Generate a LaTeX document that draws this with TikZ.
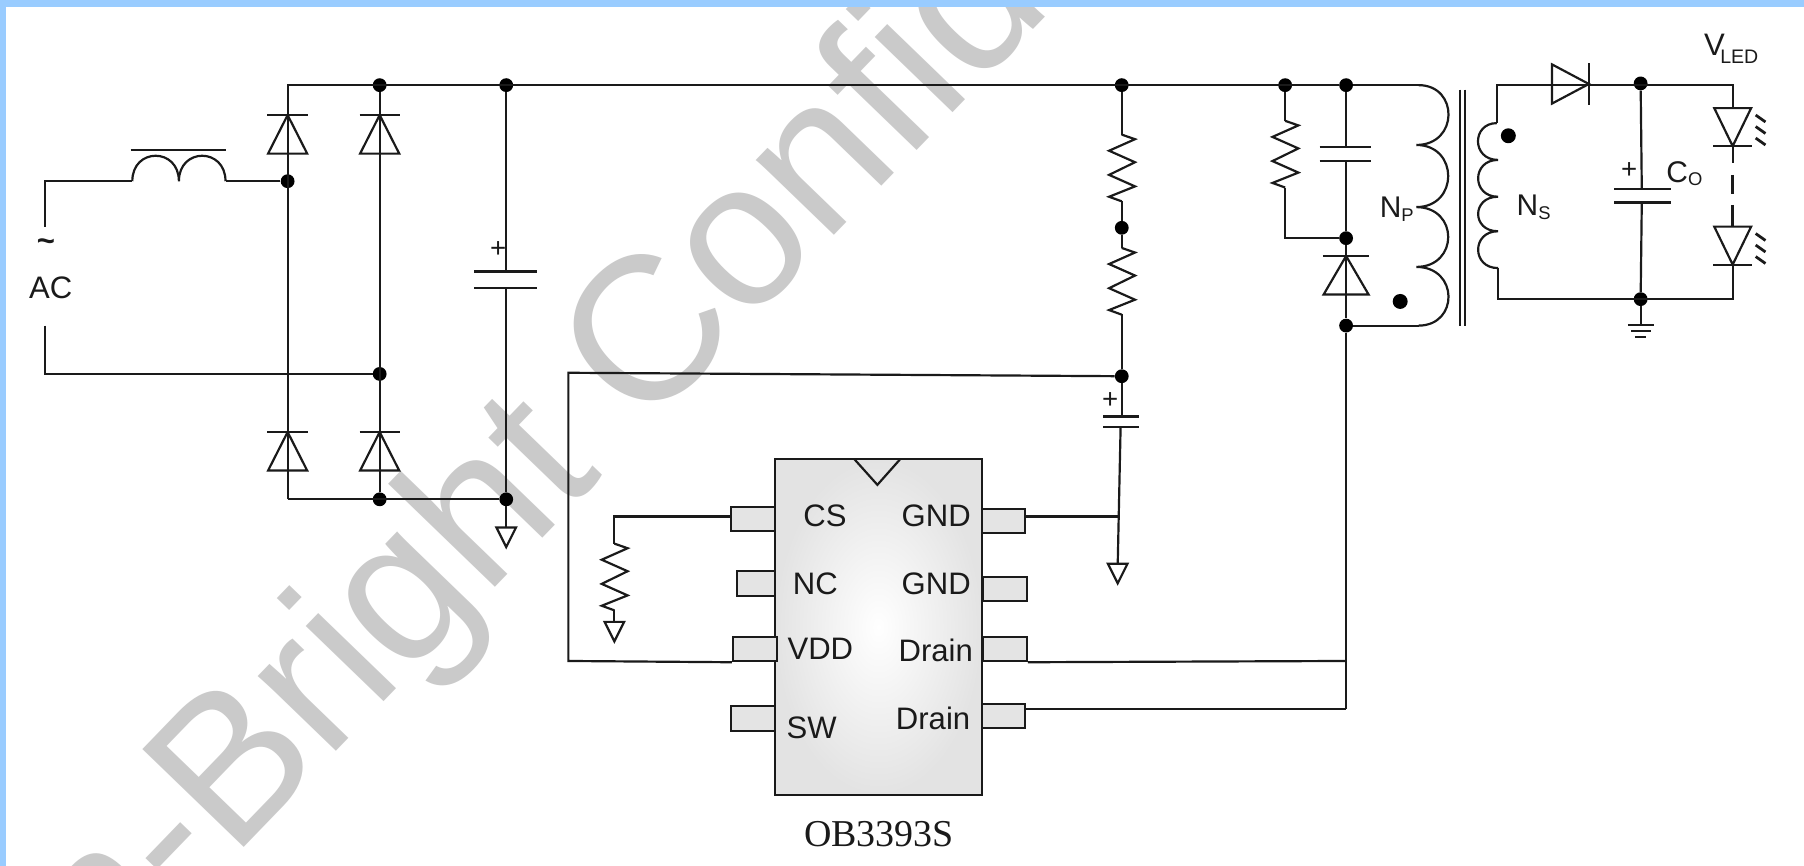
\documentclass[tikz,border=0pt]{standalone}
\usepackage{fontspec}
\setmainfont{Liberation Sans}
\newfontfamily\serifface{Liberation Serif}
\definecolor{barblue}{HTML}{99CCFF}
\definecolor{mark}{HTML}{CACACA}
\definecolor{ink}{HTML}{1A1A1A}
\definecolor{pinfill}{HTML}{E4E4E4}
\tikzset{
  wire/.style={line width=1.9pt,draw=ink,line join=miter},
  jdot/.style={circle,fill=black,draw=none,inner sep=0pt,minimum size=12pt},
  smalldot/.style={circle,fill=black,draw=none,inner sep=0pt,minimum size=13pt},
  lbl/.style={inner sep=0pt,text=ink,font=\fontsize{27}{27}\selectfont},
  lblb/.style={inner sep=0pt,text=ink,font=\fontsize{26}{26}\selectfont},
  plusl/.style={inner sep=0pt,text=ink,font=\fontsize{24}{24}\selectfont},
  pinbox/.style={draw=ink,line width=1.7pt,fill=pinfill,inner sep=0pt,rectangle},
  watermark/.style={inner sep=0pt,text=mark,rotate=46,font=\fontsize{178}{178}\selectfont},
  pics/diodeup/.style={code={
    \draw[wire] (-17.5,0) -- (17.5,0);
    \draw[wire] (0,0) -- (-17,33.5) -- (17,33.5) -- cycle;}},
  pics/leddown/.style={code={
    \draw[wire] (-17,33) -- (17,33);
    \draw[wire] (0,33) -- (-16,0) -- (16,0) -- cycle;
    \foreach \d in {6,16,26}{\draw[wire,line width=2.4pt] (20,\d) -- (28.5,\d+6);}}},
  pics/zigzag/.style={code={
    \draw[wire] (0,0) -- (11.5,4) -- (-11,14) -- (11.5,24) -- (-11,35) -- (11.5,45) -- (-11,54) -- (0,58);}},
  pics/groundtri/.style={code={
    \draw[wire] (-8.5,0) -- (8.5,0) -- (0,17) -- cycle;}}
}
\begin{document}
\begin{tikzpicture}[x=1pt,y=-1pt]
\useasboundingbox (0,0) rectangle (1568,752.7);
\clip (0,0) rectangle (1568,752.7);
\fill[white] (0,0) rectangle (1568,752.7);
% watermark
\coordinate (wmb) at (201.6,747);
\node[watermark,anchor=base west] (wm) at (wmb) {Bright Confidential};
\node[watermark,anchor=base east] (wmpre) at (wmb) {On-};
% frame
\fill[barblue] (0,0) rectangle (1568,6.5);
\fill[barblue] (0,0) rectangle (5.5,752.7);

% junctions
\node[jdot] (t1) at (330,74) {};
\node[jdot] (t2) at (440,74) {};
\node[jdot] (t3) at (975,74) {};
\node[jdot] (t4) at (1117,74) {};
\node[jdot] (t5) at (1170,74) {};
\node[jdot] (j1) at (250,157.5) {};
\node[jdot] (j2) at (330,325) {};
\node[jdot] (b1) at (330,434) {};
\node[jdot] (b2) at (440,434) {};
\node[jdot] (m1) at (975,198) {};
\node[jdot] (m2) at (975,327) {};
\node[jdot] (c1) at (1170,207) {};
\node[jdot] (c2) at (1170,283) {};
\node[jdot] (s1) at (1426,72.5) {};
\node[jdot] (s2) at (1426,260) {};
\node[smalldot] (dotS) at (1311,118) {};
\node[smalldot] (dotP) at (1217,262) {};

\coordinate (tl) at (250,74);
\coordinate (bl) at (250,434);
\coordinate (acA) at (39,197);
\coordinate (acB) at (39,157.5);
\coordinate (acC) at (39,283);
\coordinate (acD) at (39,325);
\coordinate (lA) at (115,157.5);
\coordinate (lM) at (155.5,157.5);
\coordinate (lB) at (196,157.5);
\coordinate (pT) at (1233,74);
\coordinate (pB) at (1233,283);

% AC and choke
\draw[wire] (acA) -- (acB) -- (lA);
\draw[wire] (lB) -- (j1);
\draw[wire] (acC) -- (acD) -- (j2);
\draw[wire] (lA) .. controls (115,128) and (155.5,128) .. (lM) .. controls (155.5,128) and (196,128) .. (lB);
\coordinate (bar1) at (113.5,130.5); \coordinate (bar2) at (196,130.5);
\draw[wire] (bar1) -- (bar2);
\node[lbl,font=\bfseries\fontsize{27}{27}\selectfont] (tilde) at (40,213) {\textasciitilde};
\node[lbl] (ac) at (44,250.5) {AC};

% rails
\draw[wire] (bl) -- (tl) -- (t5);
\draw[wire] (t5) -- (pT);
\draw[wire] (t1) -- (b1);
\draw[wire] (bl) -- (b2);
% bridge diodes
\pic at (250,100) {diodeup};
\pic at (330,100) {diodeup};
\pic at (250,375.5) {diodeup};
\pic at (330,375.5) {diodeup};

% bulk cap
\coordinate (gA) at (440,458.5);
\coordinate (cbA) at (412,236); \coordinate (cbB) at (467,236);
\coordinate (cbC) at (412,250); \coordinate (cbD) at (467,250);
\draw[wire] (t2) -- (440,236);
\draw[wire] (440,250) -- (b2);
\draw[wire] (b2) -- (gA);
\draw[wire] (cbA) -- (cbB);
\draw[wire] (cbC) -- (cbD);
\node[plusl] (plus1) at (433,216.5) {+};
\pic at (gA) {groundtri};

% startup resistors
\draw[wire] (t3) -- (975,117);
\pic at (975,117) {zigzag};
\draw[wire] (975,175) -- (m1) -- (975,215.5);
\pic at (975,215.5) {zigzag};
\draw[wire] (975,273) -- (m2);

% VDD cap
\coordinate (ca) at (975,362); \coordinate (cb) at (974,371);
\draw[wire] (m2) -- (ca);
\draw[wire] (959,362) -- (990,362);
\draw[wire] (959,371) -- (990,371);
\coordinate (gB) at (971.5,490);
\draw[wire] (cb) -- (gB);
\pic at (gB) {groundtri};
\node[plusl] (plus2) at (965,348) {+};

% IC
\node[rectangle,draw=ink,line width=1.9pt,inner color=white,outer color=black!11,minimum width=180pt,minimum height=292pt,inner sep=0pt] (ic) at (763.5,545) {};
\coordinate (nA) at (742.5,399); \coordinate (nB) at (762.6,421.4); \coordinate (nC) at (782.5,399);
\draw[wire] (nA) -- (nB) -- (nC);
\node[pinbox,minimum width=38pt,minimum height=21pt] (pCS) at (654.5,451) {};
\node[pinbox,minimum width=32.5pt,minimum height=22pt] (pNC) at (657.2,507) {};
\node[pinbox,minimum width=38pt,minimum height=21.5pt] (pVDD) at (656,564) {};
\node[pinbox,minimum width=38pt,minimum height=21pt] (pSW) at (654.5,624.5) {};
\node[pinbox,minimum width=38pt,minimum height=21pt] (pG1) at (872.2,452.5) {};
\node[pinbox,minimum width=38pt,minimum height=21pt] (pG2) at (873.8,512) {};
\node[pinbox,minimum width=38pt,minimum height=21.5pt] (pD1) at (873.5,564) {};
\node[pinbox,minimum width=38pt,minimum height=21pt] (pD2) at (872.2,622.5) {};

\node[lbl] (tCS) at (717,448.5) {CS};
\node[lbl] (tNC) at (708.7,507.5) {NC};
\node[lbl] (tVDD) at (713,564) {VDD};
\node[lbl] (tSW) at (705.5,632.5) {SW};
\node[lbl] (tG1) at (813.7,448.5) {GND};
\node[lbl] (tG2) at (813.7,507.5) {GND};
\node[lbl] (tD1) at (813.3,565.5) {Drain};
\node[lbl] (tD2) at (811,624) {Drain};
\node[inner sep=0pt,text=ink,font=\serifface\fontsize{33}{33}\selectfont] (part) at (764,725) {OB3393S};

% IC wiring
\coordinate (vL) at (494,324);
\coordinate (vLb) at (494,574.5);
\draw[wire] (m2) -- (vL) -- (vLb) -- (pVDD.south west);
\coordinate (csC) at (534,449);
\draw[wire] (pCS.west |- csC) -- (csC) -- (534,472.5);
\pic at (534,472.5) {zigzag};
\coordinate (gC) at (534,540.5);
\draw[wire] (534,530.5) -- (gC);
\pic at (gC) {groundtri};
\coordinate (gnd1) at (972,449);
\draw[wire] (pG1.east |- gnd1) -- (gnd1);
\coordinate (dr1) at (1170,574.5);
\coordinate (dr2) at (1170,616);
\draw[wire] (pD1.south east) -- (dr1);
\draw[wire] (pD2.east |- dr2) -- (dr2);
\draw[wire] (t5) -- (1170,128);
\draw[wire] (1170,140) -- (c1);
\draw[wire] (c1) -- (c2) -- (dr2);
\draw[wire] (1147,128) -- (1192,128);
\draw[wire] (1147,140) -- (1192,140);
% snubber
\draw[wire] (t4) -- (1117,105);
\pic at (1117,105) {zigzag};
\draw[wire] (1117,163) -- (1117,207) -- (c1);
\pic[xscale=1.15] at (1170,222.5) {diodeup};

% primary winding
\draw[wire] (c2) -- (pB);
\draw[wire] (pT) .. controls (1268,74) and (1268,126) .. (1231,126)
  (1231,126) .. controls (1268,126) and (1268,180) .. (1231,180)
  (1231,180) .. controls (1268,180) and (1268,232) .. (1231,232)
  (1231,232) .. controls (1268,232) and (1268,283) .. (pB);
\draw[wire] (1269,78) -- (1269,283);
\draw[wire] (1273.5,78) -- (1273.5,283);
\node[lblb] (np) at (1214,182) {N\raisebox{-3pt}{\fontsize{16}{16}\selectfont P}};

% secondary
\coordinate (sT) at (1301,74);
\coordinate (sA) at (1301,107);
\coordinate (sB) at (1302,233);
\coordinate (sC) at (1302,260);
\coordinate (ledT) at (1506,74);
\coordinate (ledB) at (1506,260);
\draw[wire] (sA) -- (sT) -- (ledT) -- (1506,94);
\draw[wire] (sA) .. controls (1279,107) and (1279,139) .. (1302,139)
  (1302,139) .. controls (1279,139) and (1279,171) .. (1302,171)
  (1302,171) .. controls (1279,171) and (1279,201) .. (1302,201)
  (1302,201) .. controls (1279,201) and (1279,233) .. (sB);
\draw[wire] (sB) -- (sC) -- (ledB) -- (1506,230);
\node[lblb] (ns) at (1333,180) {N\raisebox{-3pt}{\fontsize{16}{16}\selectfont S}};
% output diode
\draw[wire] (1349,56) -- (1349,90) -- (1381,73) -- cycle;
\draw[wire] (1381,55) -- (1381,91);
% output cap
\draw[wire] (s1) -- (1427,164);
\draw[wire] (1427,176) -- (s2);
\draw[wire] (1403,164) -- (1452,164);
\draw[wire] (1403,176) -- (1452,176);
\node[plusl] (plus3) at (1416,148) {+};
\node[lblb] (co) at (1464,151) {C\raisebox{-3pt}{\fontsize{16}{16}\selectfont O}};
% LED chain
\pic at (1506,94) {leddown};
\pic at (1506,197) {leddown};
\draw[wire] (1506,127) -- (1506,142);
\draw[wire,line width=2.6pt] (1506,152) -- (1506,169);
\draw[wire,line width=2.6pt] (1506,178) -- (1506,197);
\node[lbl,anchor=base west] (vled) at (1481,48) {V\kern-4pt\raisebox{-7pt}{\fontsize{17}{17}\selectfont LED}};
% ground
\coordinate (eg) at (1426,282.5);
\draw[wire] (s2) -- (eg);
\draw[wire] (1415,282.5) -- (1438,282.5);
\draw[wire] (1418,288) -- (1435,288);
\draw[wire] (1421,293) -- (1431,293);
\end{tikzpicture}
\end{document}
